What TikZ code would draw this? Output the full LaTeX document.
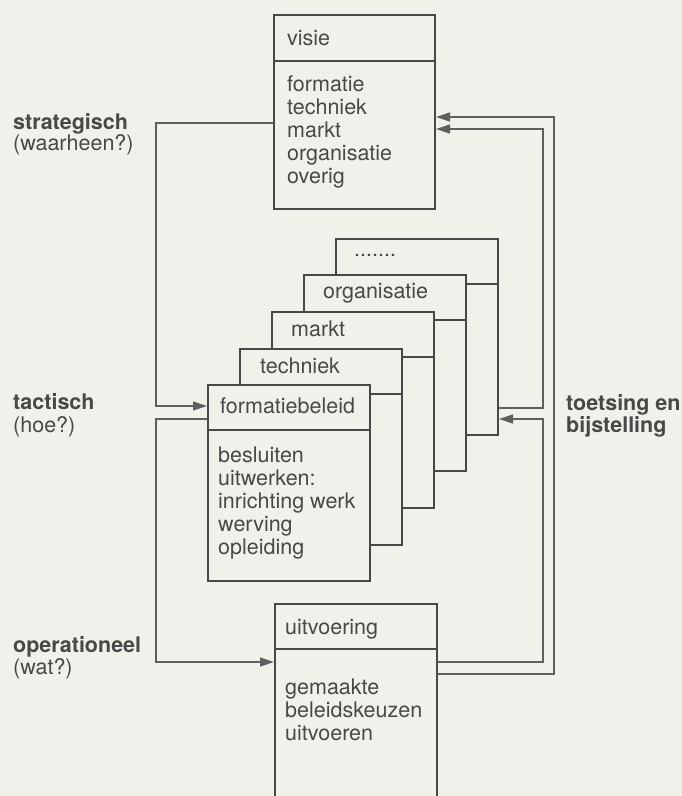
\documentclass[tikz,border=0pt]{standalone}
\usepackage{fontspec}
\setmainfont{TeX Gyre Heros}
\usetikzlibrary{arrows.meta}

\definecolor{paper}{RGB}{242,240,235}
\definecolor{ink}{RGB}{72,72,72}
\definecolor{wire}{RGB}{95,95,95}

\tikzset{
  box/.style={draw=ink, line width=2pt, fill=paper, inner sep=0pt, anchor=north west,
    minimum width=162pt, minimum height=196pt},
  divider/.style={draw=ink, line width=1.3pt},
  title/.style={anchor=base west, inner sep=0pt},
  body/.style={anchor=north west, inner sep=0pt, align=left},
  level/.style={anchor=base west, inner sep=0pt, font=\fontsize{21.5}{23}\selectfont\bfseries},
  wire/.style={draw=wire, line width=1.3pt},
  feed/.style={wire, -{Triangle[length=14pt,width=9pt]}}
}

\begin{document}
\begin{tikzpicture}[x=1pt,y=-1pt,font=\fontsize{21.5}{23}\selectfont,text=ink]

        % Paper
        \fill[paper] (0,0) rectangle (682,796);
        \useasboundingbox (0,0) rectangle (682,796);

        % Strategic box
        \node[box, minimum width=161pt, minimum height=194pt] (visie) at (273,14) {};
        \draw[divider] ([yshift=-47pt]visie.north west) -- ([yshift=-47pt]visie.north east);
        \node[title] (visieT) at (287,45) {visie};
        \node[body] (visieB) at (287,76) {formatie\\techniek\\markt\\organisatie\\overig};

        % Tactical boxes, back to front
        \node[box] (dots) at (335,238) {};
        \draw[divider] ([yshift=-46pt]dots.north west) -- ([yshift=-46pt]dots.north east);
        \node[title] (dotsT) at (354,256) {.......};

        \node[box] (orga) at (303,274) {};
        \draw[divider] ([yshift=-46pt]orga.north west) -- ([yshift=-46pt]orga.north east);
        \node[title] (orgaT) at (323,298) {organisatie};

        \node[box] (markt) at (271,311) {};
        \draw[divider] ([yshift=-46pt]markt.north west) -- ([yshift=-46pt]markt.north east);
        \node[title] (marktT) at (291,336) {markt};

        \node[box] (tech) at (239,348) {};
        \draw[divider] ([yshift=-46pt]tech.north west) -- ([yshift=-46pt]tech.north east);
        \node[title] (techT) at (260,373) {techniek};

        \node[box] (form) at (207,384) {};
        \draw[divider] ([yshift=-46pt]form.north west) -- ([yshift=-46pt]form.north east);
        \node[title] (formT) at (220,413) {formatiebeleid};
        \node[body] (formB) at (218,447) {besluiten\\uitwerken:\\inrichting werk\\werving\\opleiding};

        % Operational box (runs off the page)
        \node[box, minimum height=230pt] (uitv) at (274,603) {};
        \draw[divider] ([yshift=-46pt]uitv.north west) -- ([yshift=-46pt]uitv.north east);
        \node[title] (uitvT) at (285,634) {uitvoering};
        \node[body] (uitvB) at (285,679) {gemaakte\\beleidskeuzen\\uitvoeren};

        % Level labels
        \node[level] (strat) at (13,129) {strategisch};
        \node[title] (stratQ) at (13,150) {(waarheen?)};
        \node[level] (tact) at (13,409) {tactisch};
        \node[title] (tactQ) at (13,432) {(hoe?)};
        \node[level] (oper) at (13,652) {operationeel};
        \node[title] (operQ) at (13,674) {(wat?)};
        \node[level] (toets) at (566,410) {toetsing en};
        \node[level] (bijst) at (566,432) {bijstelling};

        % Left bends
        \coordinate (sL) at (156,123);
        \coordinate (tL1) at (156,406);
        \coordinate (tL2) at (156,419);
        \coordinate (oL) at (156,662);

        % Right bends
        \coordinate (sR2) at (554,117);
        \coordinate (sR1) at (543,129);
        \coordinate (tR1) at (543,408);
        \coordinate (tR2) at (543,419);
        \coordinate (oR1) at (543,662);
        \coordinate (oR2) at (554,674);

        % Downward lines
        \draw[feed] (visie.west |- sL) -- (sL) -- (tL1) -- (form.west |- tL1);
        \draw[feed] (form.west |- tL2) -- (tL2) -- (oL) -- (uitv.west |- oL);

        % Feedback lines
        \draw[feed] (dots.east |- tR1) -- (tR1) -- (sR1) -- (visie.east |- sR1);
        \draw[feed] (uitv.east |- oR1) -- (oR1) -- (tR2) -- (dots.east |- tR2);
        \draw[feed] (uitv.east |- oR2) -- (oR2) -- (sR2) -- (visie.east |- sR2);

\end{tikzpicture}
\end{document}
